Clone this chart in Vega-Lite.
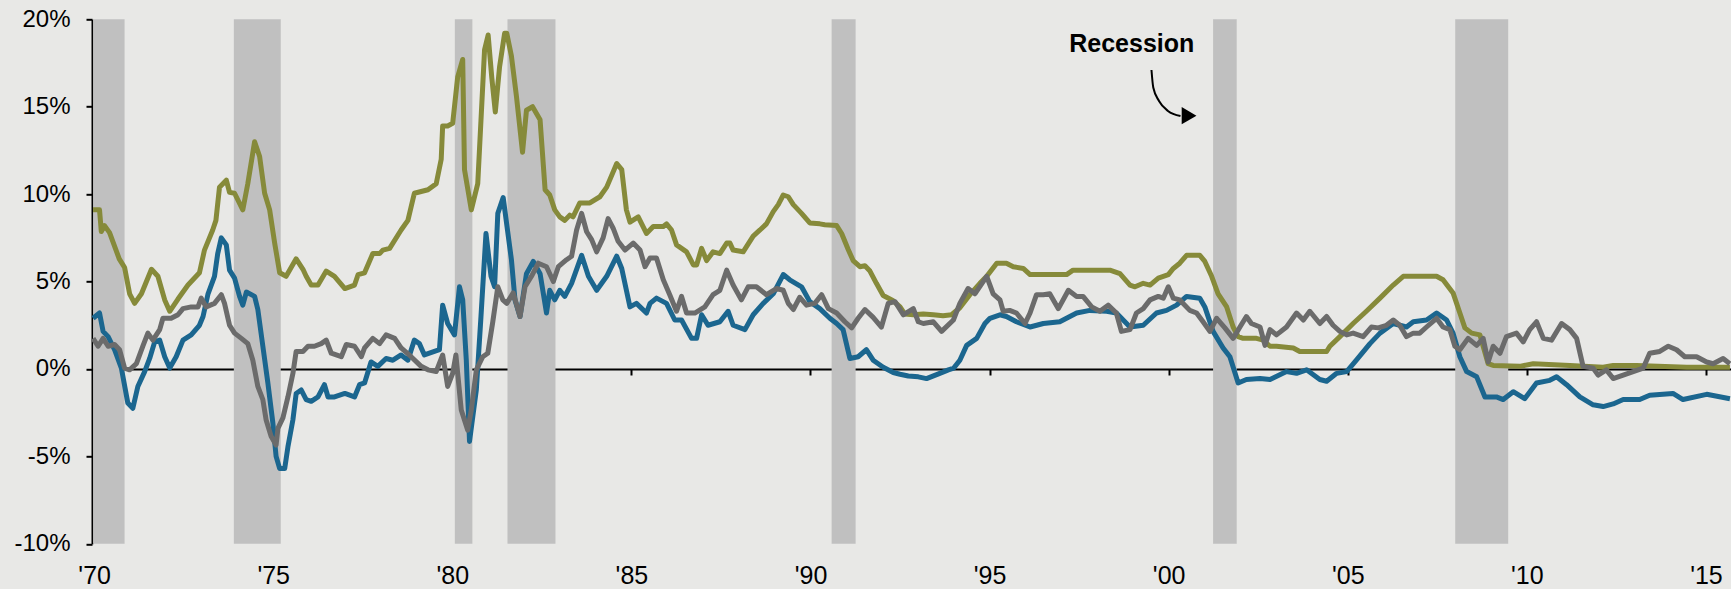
{
  "$schema": "https://vega.github.io/schema/vega-lite/v6.json",
  "width": 1639,
  "height": 524.5,
  "autosize": "none",
  "padding": {"left": 92, "top": 19.3, "right": 0, "bottom": 45.2},
  "background": "#e8e8e6",
  "config": {
    "view": {"stroke": null},
    "axis": {"grid": false, "labelFont": "Liberation Sans", "labelColor": "#000000", "title": null}
  },
  "datasets": {
    "recessions": [
      {"start": 1969.97, "end": 1970.85},
      {"start": 1973.9, "end": 1975.21},
      {"start": 1980.07, "end": 1980.56},
      {"start": 1981.54, "end": 1982.88},
      {"start": 1990.59, "end": 1991.26},
      {"start": 2001.24, "end": 2001.9},
      {"start": 2008.0, "end": 2009.48}
    ],
    "fedFunds": [
      {"t":1969.97,"v":9.1},{"t":1970.15,"v":9.1},{"t":1970.2,"v":7.86},{"t":1970.29,"v":8.2},{"t":1970.43,"v":7.8},{"t":1970.7,"v":6.3},{"t":1970.85,"v":5.8},{"t":1970.99,"v":4.3},{"t":1971.13,"v":3.75},{"t":1971.32,"v":4.3},{"t":1971.6,"v":5.7},{"t":1971.78,"v":5.3},{"t":1971.97,"v":3.95},{"t":1972.11,"v":3.3},{"t":1972.34,"v":4.0},{"t":1972.62,"v":4.8},{"t":1972.94,"v":5.5},{"t":1973.08,"v":6.8},{"t":1973.31,"v":7.95},{"t":1973.4,"v":8.5},{"t":1973.5,"v":10.4},{"t":1973.69,"v":10.8},{"t":1973.78,"v":10.1},{"t":1973.92,"v":10.05},{"t":1974.15,"v":9.1},{"t":1974.29,"v":10.6},{"t":1974.48,"v":13.0},{"t":1974.62,"v":12.15},{"t":1974.76,"v":10.05},{"t":1974.9,"v":9.1},{"t":1975.04,"v":7.2},{"t":1975.18,"v":5.5},{"t":1975.36,"v":5.3},{"t":1975.64,"v":6.3},{"t":1975.83,"v":5.7},{"t":1975.92,"v":5.3},{"t":1976.06,"v":4.8},{"t":1976.25,"v":4.8},{"t":1976.48,"v":5.6},{"t":1976.71,"v":5.3},{"t":1977.0,"v":4.6},{"t":1977.27,"v":4.8},{"t":1977.37,"v":5.4},{"t":1977.55,"v":5.5},{"t":1977.78,"v":6.6},{"t":1977.97,"v":6.6},{"t":1978.06,"v":6.8},{"t":1978.25,"v":6.9},{"t":1978.57,"v":7.95},{"t":1978.76,"v":8.5},{"t":1978.94,"v":10.05},{"t":1979.13,"v":10.15},{"t":1979.32,"v":10.25},{"t":1979.55,"v":10.6},{"t":1979.69,"v":12.0},{"t":1979.73,"v":13.9},{"t":1979.87,"v":13.9},{"t":1980.01,"v":14.05},{"t":1980.15,"v":16.7},{"t":1980.29,"v":17.7},{"t":1980.34,"v":11.4},{"t":1980.53,"v":9.1},{"t":1980.71,"v":10.6},{"t":1980.9,"v":18.25},{"t":1981.0,"v":19.1},{"t":1981.1,"v":16.7},{"t":1981.2,"v":14.7},{"t":1981.32,"v":17.3},{"t":1981.46,"v":19.2},{"t":1981.52,"v":19.2},{"t":1981.65,"v":17.9},{"t":1981.79,"v":15.6},{"t":1981.96,"v":12.4},{"t":1982.07,"v":14.8},{"t":1982.24,"v":15.0},{"t":1982.45,"v":14.25},{"t":1982.59,"v":10.25},{"t":1982.72,"v":9.95},{"t":1982.86,"v":9.1},{"t":1983.0,"v":8.7},{"t":1983.14,"v":8.5},{"t":1983.28,"v":8.8},{"t":1983.37,"v":8.7},{"t":1983.56,"v":9.5},{"t":1983.84,"v":9.5},{"t":1984.12,"v":9.85},{"t":1984.31,"v":10.4},{"t":1984.59,"v":11.75},{"t":1984.73,"v":11.4},{"t":1984.86,"v":9.1},{"t":1984.96,"v":8.4},{"t":1985.19,"v":8.7},{"t":1985.42,"v":7.75},{"t":1985.61,"v":8.15},{"t":1985.89,"v":8.15},{"t":1985.98,"v":8.3},{"t":1986.12,"v":7.95},{"t":1986.26,"v":7.1},{"t":1986.54,"v":6.7},{"t":1986.73,"v":5.95},{"t":1986.82,"v":5.95},{"t":1986.96,"v":6.9},{"t":1987.1,"v":6.2},{"t":1987.28,"v":6.7},{"t":1987.47,"v":6.6},{"t":1987.66,"v":7.2},{"t":1987.75,"v":7.2},{"t":1987.84,"v":6.8},{"t":1988.12,"v":6.7},{"t":1988.4,"v":7.6},{"t":1988.59,"v":7.95},{"t":1988.77,"v":8.3},{"t":1988.96,"v":9.0},{"t":1989.1,"v":9.4},{"t":1989.24,"v":9.95},{"t":1989.38,"v":9.85},{"t":1989.52,"v":9.4},{"t":1989.75,"v":8.9},{"t":1989.98,"v":8.35},{"t":1990.26,"v":8.3},{"t":1990.4,"v":8.25},{"t":1990.73,"v":8.2},{"t":1990.87,"v":7.75},{"t":1991.05,"v":6.85},{"t":1991.19,"v":6.2},{"t":1991.38,"v":5.85},{"t":1991.52,"v":5.9},{"t":1991.66,"v":5.6},{"t":1991.84,"v":4.9},{"t":1992.03,"v":4.2},{"t":1992.31,"v":3.9},{"t":1992.5,"v":3.55},{"t":1992.63,"v":3.15},{"t":1992.87,"v":3.1},{"t":1993.15,"v":3.15},{"t":1993.43,"v":3.1},{"t":1993.7,"v":3.05},{"t":1993.94,"v":3.1},{"t":1994.17,"v":3.5},{"t":1994.45,"v":4.25},{"t":1994.73,"v":4.9},{"t":1994.92,"v":5.3},{"t":1995.05,"v":5.65},{"t":1995.2,"v":6.05},{"t":1995.47,"v":6.05},{"t":1995.66,"v":5.85},{"t":1995.94,"v":5.75},{"t":1996.13,"v":5.4},{"t":1996.5,"v":5.4},{"t":1996.87,"v":5.4},{"t":1997.15,"v":5.4},{"t":1997.33,"v":5.65},{"t":1997.99,"v":5.65},{"t":1998.36,"v":5.65},{"t":1998.64,"v":5.45},{"t":1998.92,"v":4.8},{"t":1999.06,"v":4.7},{"t":1999.29,"v":4.9},{"t":1999.48,"v":4.8},{"t":1999.71,"v":5.2},{"t":1999.99,"v":5.4},{"t":2000.13,"v":5.75},{"t":2000.31,"v":6.05},{"t":2000.5,"v":6.5},{"t":2000.87,"v":6.5},{"t":2001.01,"v":6.15},{"t":2001.2,"v":5.3},{"t":2001.38,"v":4.3},{"t":2001.62,"v":3.55},{"t":2001.8,"v":2.4},{"t":2001.94,"v":1.85},{"t":2002.08,"v":1.75},{"t":2002.45,"v":1.75},{"t":2002.64,"v":1.65},{"t":2002.83,"v":1.3},{"t":2003.01,"v":1.3},{"t":2003.48,"v":1.2},{"t":2003.66,"v":1.0},{"t":2004.41,"v":1.0},{"t":2004.5,"v":1.3},{"t":2004.78,"v":1.85},{"t":2005.15,"v":2.6},{"t":2005.52,"v":3.3},{"t":2005.9,"v":4.05},{"t":2006.27,"v":4.8},{"t":2006.55,"v":5.3},{"t":2007.48,"v":5.3},{"t":2007.66,"v":5.1},{"t":2007.94,"v":4.35},{"t":2008.13,"v":3.2},{"t":2008.27,"v":2.35},{"t":2008.46,"v":2.05},{"t":2008.69,"v":1.95},{"t":2008.78,"v":1.3},{"t":2008.92,"v":0.3},{"t":2009.06,"v":0.2},{"t":2009.8,"v":0.15},{"t":2010.18,"v":0.3},{"t":2011.2,"v":0.2},{"t":2012.13,"v":0.1},{"t":2012.41,"v":0.2},{"t":2013.06,"v":0.2},{"t":2014.46,"v":0.1},{"t":2015.67,"v":0.1}
    ],
    "realFedFunds": [
      {"t":1969.97,"v":2.9},{"t":1970.15,"v":3.2},{"t":1970.25,"v":2.15},{"t":1970.39,"v":1.85},{"t":1970.57,"v":1.1},{"t":1970.76,"v":0.05},{"t":1970.94,"v":-1.95},{"t":1971.08,"v":-2.25},{"t":1971.22,"v":-1.0},{"t":1971.41,"v":-0.15},{"t":1971.55,"v":0.6},{"t":1971.69,"v":1.55},{"t":1971.83,"v":1.65},{"t":1971.97,"v":0.7},{"t":1972.11,"v":0.05},{"t":1972.29,"v":0.7},{"t":1972.48,"v":1.65},{"t":1972.71,"v":1.95},{"t":1972.94,"v":2.5},{"t":1973.04,"v":3.0},{"t":1973.18,"v":4.3},{"t":1973.36,"v":5.3},{"t":1973.45,"v":6.6},{"t":1973.55,"v":7.5},{"t":1973.69,"v":7.1},{"t":1973.78,"v":5.65},{"t":1973.92,"v":5.2},{"t":1974.06,"v":4.15},{"t":1974.15,"v":3.65},{"t":1974.25,"v":4.4},{"t":1974.48,"v":4.15},{"t":1974.57,"v":3.4},{"t":1974.71,"v":1.3},{"t":1974.85,"v":-0.8},{"t":1974.99,"v":-3.1},{"t":1975.08,"v":-5.0},{"t":1975.18,"v":-5.7},{"t":1975.32,"v":-5.7},{"t":1975.41,"v":-4.45},{"t":1975.55,"v":-2.9},{"t":1975.64,"v":-1.4},{"t":1975.78,"v":-1.2},{"t":1975.92,"v":-1.75},{"t":1976.06,"v":-1.85},{"t":1976.25,"v":-1.6},{"t":1976.43,"v":-0.9},{"t":1976.53,"v":-1.6},{"t":1976.71,"v":-1.6},{"t":1977.0,"v":-1.4},{"t":1977.27,"v":-1.6},{"t":1977.41,"v":-0.9},{"t":1977.55,"v":-0.8},{"t":1977.73,"v":0.4},{"t":1977.92,"v":0.15},{"t":1978.15,"v":0.6},{"t":1978.34,"v":0.5},{"t":1978.57,"v":0.8},{"t":1978.76,"v":0.5},{"t":1978.94,"v":1.65},{"t":1979.08,"v":1.45},{"t":1979.22,"v":0.8},{"t":1979.5,"v":1.0},{"t":1979.64,"v":1.1},{"t":1979.73,"v":3.65},{"t":1979.87,"v":2.6},{"t":1980.06,"v":1.95},{"t":1980.2,"v":4.7},{"t":1980.29,"v":3.95},{"t":1980.39,"v":0.5},{"t":1980.48,"v":-4.15},{"t":1980.67,"v":-1.2},{"t":1980.8,"v":3.0},{"t":1980.94,"v":7.75},{"t":1981.08,"v":5.3},{"t":1981.18,"v":4.7},{"t":1981.27,"v":8.9},{"t":1981.42,"v":9.8},{"t":1981.65,"v":6.25},{"t":1981.75,"v":3.95},{"t":1981.89,"v":3.0},{"t":1982.07,"v":5.45},{"t":1982.26,"v":6.15},{"t":1982.45,"v":5.45},{"t":1982.63,"v":3.2},{"t":1982.72,"v":4.5},{"t":1982.86,"v":3.95},{"t":1983.0,"v":4.5},{"t":1983.14,"v":4.15},{"t":1983.33,"v":4.9},{"t":1983.61,"v":6.5},{"t":1983.8,"v":5.3},{"t":1984.03,"v":4.5},{"t":1984.31,"v":5.3},{"t":1984.59,"v":6.45},{"t":1984.73,"v":5.75},{"t":1984.96,"v":3.55},{"t":1985.14,"v":3.75},{"t":1985.42,"v":3.2},{"t":1985.52,"v":3.75},{"t":1985.7,"v":4.05},{"t":1985.98,"v":3.75},{"t":1986.21,"v":2.8},{"t":1986.4,"v":2.8},{"t":1986.68,"v":1.75},{"t":1986.82,"v":1.75},{"t":1986.96,"v":3.1},{"t":1987.14,"v":2.5},{"t":1987.47,"v":2.7},{"t":1987.7,"v":3.3},{"t":1987.84,"v":2.5},{"t":1988.17,"v":2.25},{"t":1988.4,"v":3.1},{"t":1988.68,"v":3.75},{"t":1988.96,"v":4.3},{"t":1989.24,"v":5.4},{"t":1989.42,"v":5.1},{"t":1989.75,"v":4.7},{"t":1989.98,"v":3.85},{"t":1990.26,"v":3.45},{"t":1990.54,"v":2.9},{"t":1990.73,"v":2.6},{"t":1990.91,"v":2.25},{"t":1991.1,"v":0.6},{"t":1991.33,"v":0.7},{"t":1991.56,"v":1.1},{"t":1991.75,"v":0.5},{"t":1992.03,"v":0.1},{"t":1992.31,"v":-0.2},{"t":1992.5,"v":-0.3},{"t":1992.73,"v":-0.4},{"t":1993.01,"v":-0.45},{"t":1993.24,"v":-0.55},{"t":1993.61,"v":-0.25},{"t":1993.85,"v":-0.05},{"t":1994.0,"v":0.05},{"t":1994.17,"v":0.5},{"t":1994.36,"v":1.35},{"t":1994.64,"v":1.75},{"t":1994.87,"v":2.6},{"t":1995.01,"v":2.9},{"t":1995.29,"v":3.1},{"t":1995.47,"v":3.0},{"t":1995.75,"v":2.7},{"t":1996.13,"v":2.4},{"t":1996.5,"v":2.6},{"t":1996.96,"v":2.7},{"t":1997.43,"v":3.2},{"t":1997.8,"v":3.35},{"t":1998.27,"v":3.3},{"t":1998.54,"v":3.2},{"t":1998.92,"v":2.4},{"t":1999.29,"v":2.5},{"t":1999.66,"v":3.2},{"t":1999.94,"v":3.35},{"t":2000.22,"v":3.65},{"t":2000.5,"v":4.15},{"t":2000.87,"v":4.05},{"t":2001.01,"v":3.55},{"t":2001.24,"v":2.15},{"t":2001.52,"v":1.2},{"t":2001.71,"v":0.7},{"t":2001.94,"v":-0.8},{"t":2002.17,"v":-0.6},{"t":2002.55,"v":-0.55},{"t":2002.83,"v":-0.6},{"t":2003.29,"v":-0.15},{"t":2003.57,"v":-0.25},{"t":2003.85,"v":-0.05},{"t":2004.22,"v":-0.6},{"t":2004.41,"v":-0.7},{"t":2004.69,"v":-0.25},{"t":2004.97,"v":-0.15},{"t":2005.24,"v":0.5},{"t":2005.62,"v":1.45},{"t":2005.9,"v":2.05},{"t":2006.27,"v":2.6},{"t":2006.64,"v":2.4},{"t":2006.83,"v":2.7},{"t":2007.2,"v":2.8},{"t":2007.48,"v":3.2},{"t":2007.76,"v":2.8},{"t":2007.94,"v":2.05},{"t":2008.13,"v":0.7},{"t":2008.32,"v":-0.15},{"t":2008.6,"v":-0.45},{"t":2008.83,"v":-1.6},{"t":2009.15,"v":-1.6},{"t":2009.34,"v":-1.75},{"t":2009.62,"v":-1.3},{"t":2009.94,"v":-1.7},{"t":2010.27,"v":-0.8},{"t":2010.64,"v":-0.65},{"t":2010.83,"v":-0.45},{"t":2011.11,"v":-0.9},{"t":2011.48,"v":-1.6},{"t":2011.85,"v":-2.05},{"t":2012.13,"v":-2.15},{"t":2012.41,"v":-2.0},{"t":2012.69,"v":-1.75},{"t":2013.15,"v":-1.75},{"t":2013.43,"v":-1.5},{"t":2014.08,"v":-1.4},{"t":2014.36,"v":-1.75},{"t":2015.02,"v":-1.45},{"t":2015.67,"v":-1.7}
    ],
    "thirdSeries": [
      {"t":1969.97,"v":1.75},{"t":1970.11,"v":1.3},{"t":1970.25,"v":1.75},{"t":1970.39,"v":1.3},{"t":1970.57,"v":1.4},{"t":1970.71,"v":1.1},{"t":1970.85,"v":0.05},{"t":1970.99,"v":-0.05},{"t":1971.18,"v":0.3},{"t":1971.36,"v":1.3},{"t":1971.5,"v":2.05},{"t":1971.64,"v":1.65},{"t":1971.83,"v":2.25},{"t":1971.92,"v":2.9},{"t":1972.15,"v":2.9},{"t":1972.34,"v":3.1},{"t":1972.48,"v":3.45},{"t":1972.71,"v":3.55},{"t":1972.9,"v":3.55},{"t":1972.99,"v":4.05},{"t":1973.13,"v":3.55},{"t":1973.36,"v":3.75},{"t":1973.55,"v":4.25},{"t":1973.64,"v":3.75},{"t":1973.78,"v":2.5},{"t":1973.92,"v":2.05},{"t":1974.11,"v":1.75},{"t":1974.29,"v":1.45},{"t":1974.43,"v":0.5},{"t":1974.57,"v":-1.0},{"t":1974.71,"v":-1.75},{"t":1974.8,"v":-2.9},{"t":1974.94,"v":-3.85},{"t":1975.08,"v":-4.35},{"t":1975.13,"v":-3.4},{"t":1975.27,"v":-2.8},{"t":1975.41,"v":-1.6},{"t":1975.55,"v":-0.25},{"t":1975.64,"v":1.0},{"t":1975.83,"v":1.0},{"t":1975.97,"v":1.3},{"t":1976.15,"v":1.3},{"t":1976.34,"v":1.45},{"t":1976.48,"v":1.65},{"t":1976.62,"v":0.9},{"t":1976.9,"v":0.7},{"t":1977.04,"v":1.4},{"t":1977.27,"v":1.3},{"t":1977.46,"v":0.7},{"t":1977.55,"v":1.2},{"t":1977.78,"v":1.75},{"t":1977.97,"v":1.45},{"t":1978.15,"v":1.95},{"t":1978.39,"v":1.75},{"t":1978.57,"v":1.2},{"t":1978.85,"v":0.7},{"t":1979.13,"v":0.15},{"t":1979.32,"v":-0.05},{"t":1979.55,"v":-0.15},{"t":1979.73,"v":0.8},{"t":1979.87,"v":-1.0},{"t":1980.01,"v":-0.25},{"t":1980.1,"v":0.8},{"t":1980.25,"v":-2.35},{"t":1980.43,"v":-3.5},{"t":1980.53,"v":-2.35},{"t":1980.67,"v":-0.05},{"t":1980.85,"v":0.7},{"t":1980.99,"v":0.9},{"t":1981.13,"v":2.7},{"t":1981.27,"v":4.7},{"t":1981.41,"v":3.95},{"t":1981.52,"v":3.75},{"t":1981.7,"v":4.35},{"t":1981.89,"v":3.0},{"t":1982.03,"v":4.7},{"t":1982.21,"v":5.3},{"t":1982.4,"v":6.05},{"t":1982.63,"v":5.85},{"t":1982.82,"v":5.0},{"t":1982.96,"v":5.85},{"t":1983.19,"v":6.25},{"t":1983.33,"v":6.45},{"t":1983.47,"v":7.95},{"t":1983.61,"v":8.9},{"t":1983.75,"v":7.85},{"t":1983.89,"v":7.4},{"t":1984.03,"v":6.7},{"t":1984.21,"v":7.5},{"t":1984.35,"v":8.6},{"t":1984.49,"v":8.05},{"t":1984.63,"v":7.3},{"t":1984.82,"v":6.8},{"t":1985.05,"v":7.2},{"t":1985.24,"v":6.8},{"t":1985.38,"v":5.85},{"t":1985.52,"v":6.35},{"t":1985.7,"v":6.35},{"t":1985.89,"v":5.1},{"t":1986.07,"v":4.25},{"t":1986.26,"v":3.3},{"t":1986.4,"v":4.15},{"t":1986.54,"v":3.2},{"t":1986.77,"v":3.2},{"t":1987.05,"v":3.55},{"t":1987.28,"v":4.25},{"t":1987.47,"v":4.5},{"t":1987.66,"v":5.65},{"t":1987.84,"v":4.8},{"t":1988.07,"v":3.95},{"t":1988.26,"v":4.7},{"t":1988.49,"v":4.7},{"t":1988.77,"v":4.25},{"t":1989.05,"v":4.6},{"t":1989.24,"v":4.5},{"t":1989.38,"v":3.75},{"t":1989.52,"v":3.4},{"t":1989.7,"v":4.1},{"t":1989.89,"v":3.65},{"t":1990.12,"v":3.75},{"t":1990.31,"v":4.25},{"t":1990.5,"v":3.45},{"t":1990.73,"v":3.2},{"t":1990.96,"v":2.7},{"t":1991.15,"v":2.35},{"t":1991.33,"v":2.9},{"t":1991.52,"v":3.4},{"t":1991.75,"v":2.95},{"t":1991.98,"v":2.4},{"t":1992.17,"v":3.75},{"t":1992.36,"v":3.85},{"t":1992.59,"v":3.1},{"t":1992.87,"v":3.45},{"t":1993.01,"v":2.7},{"t":1993.15,"v":2.6},{"t":1993.43,"v":2.7},{"t":1993.66,"v":2.15},{"t":1993.99,"v":2.8},{"t":1994.17,"v":3.75},{"t":1994.4,"v":4.6},{"t":1994.59,"v":4.3},{"t":1994.92,"v":5.3},{"t":1995.1,"v":4.3},{"t":1995.29,"v":3.95},{"t":1995.38,"v":3.3},{"t":1995.56,"v":3.35},{"t":1995.75,"v":3.2},{"t":1995.99,"v":2.6},{"t":1996.13,"v":3.2},{"t":1996.31,"v":4.25},{"t":1996.5,"v":4.25},{"t":1996.68,"v":4.3},{"t":1996.92,"v":3.45},{"t":1997.2,"v":4.5},{"t":1997.43,"v":4.15},{"t":1997.61,"v":4.15},{"t":1997.85,"v":3.55},{"t":1998.08,"v":3.3},{"t":1998.31,"v":3.65},{"t":1998.54,"v":3.2},{"t":1998.68,"v":2.15},{"t":1998.92,"v":2.25},{"t":1999.1,"v":3.2},{"t":1999.29,"v":3.45},{"t":1999.48,"v":3.95},{"t":1999.71,"v":4.15},{"t":1999.85,"v":4.05},{"t":1999.99,"v":4.7},{"t":2000.13,"v":4.05},{"t":2000.31,"v":3.95},{"t":2000.59,"v":3.35},{"t":2000.78,"v":3.2},{"t":2000.96,"v":2.7},{"t":2001.15,"v":2.15},{"t":2001.34,"v":2.9},{"t":2001.57,"v":2.35},{"t":2001.8,"v":1.75},{"t":2001.99,"v":2.4},{"t":2002.17,"v":3.0},{"t":2002.31,"v":2.6},{"t":2002.55,"v":2.4},{"t":2002.69,"v":1.35},{"t":2002.83,"v":2.25},{"t":2003.01,"v":1.95},{"t":2003.29,"v":2.4},{"t":2003.57,"v":3.2},{"t":2003.76,"v":2.8},{"t":2003.94,"v":3.3},{"t":2004.22,"v":2.6},{"t":2004.41,"v":3.0},{"t":2004.59,"v":2.5},{"t":2004.78,"v":2.15},{"t":2004.97,"v":1.95},{"t":2005.15,"v":2.05},{"t":2005.43,"v":1.85},{"t":2005.66,"v":2.4},{"t":2005.85,"v":2.35},{"t":2006.08,"v":2.5},{"t":2006.27,"v":2.8},{"t":2006.45,"v":2.5},{"t":2006.64,"v":1.85},{"t":2006.83,"v":2.05},{"t":2007.01,"v":2.05},{"t":2007.2,"v":2.4},{"t":2007.48,"v":2.9},{"t":2007.66,"v":2.4},{"t":2007.85,"v":2.25},{"t":2007.99,"v":1.3},{"t":2008.13,"v":1.1},{"t":2008.36,"v":1.75},{"t":2008.6,"v":1.35},{"t":2008.78,"v":1.75},{"t":2008.92,"v":0.4},{"t":2009.06,"v":1.3},{"t":2009.25,"v":0.9},{"t":2009.43,"v":1.85},{"t":2009.71,"v":2.05},{"t":2009.9,"v":1.55},{"t":2010.08,"v":2.25},{"t":2010.27,"v":2.7},{"t":2010.46,"v":1.75},{"t":2010.69,"v":1.65},{"t":2010.97,"v":2.6},{"t":2011.2,"v":2.25},{"t":2011.39,"v":1.75},{"t":2011.57,"v":0.15},{"t":2011.85,"v":0.05},{"t":2011.99,"v":-0.35},{"t":2012.22,"v":-0.05},{"t":2012.41,"v":-0.55},{"t":2012.69,"v":-0.35},{"t":2012.97,"v":-0.15},{"t":2013.25,"v":0.05},{"t":2013.43,"v":0.9},{"t":2013.71,"v":1.0},{"t":2013.95,"v":1.3},{"t":2014.18,"v":1.1},{"t":2014.41,"v":0.7},{"t":2014.74,"v":0.7},{"t":2015.02,"v":0.4},{"t":2015.2,"v":0.3},{"t":2015.48,"v":0.6},{"t":2015.67,"v":0.3}
    ],
    "arrow": [
      {"t":1999.52,"v":17.1},{"t":1999.57,"v":16.1},{"t":1999.73,"v":15.33},{"t":1999.98,"v":14.76},{"t":2000.33,"v":14.47}
    ],
    "label": [
      {"t":1998.97,"v":18.12,"text":"Recession","ht":2000.57,"hv":14.49}
    ]
  },
  "resolve": {"axis": {"x": "independent", "y": "independent"}},
  "layer": [
    {
      "data": {"name": "recessions"},
      "mark": {"type": "rect", "color": "#c0c0c0"},
      "encoding": {
        "x": {"field": "start", "type": "quantitative",
              "scale": {"domain": [1969.94, 2015.7], "nice": false, "zero": false},
              "axis": {"values": [1970,1975,1980,1985,1990,1995,2000,2005,2010,2015],
                       "labelExpr": "\"'\" + substring(toString(datum.value), 2, 4)",
                       "ticks": false, "domain": false, "labelFontSize": 25, "labelPadding": 20,
                       "labelFlush": false, "labelOverlap": false}},
        "x2": {"field": "end"},
        "y": {"datum": 20, "type": "quantitative", "scale": {"domain": [-10, 20], "nice": false},
              "axis": {"values": [-10,-5,0,5,10,15,20], "labelExpr": "datum.value + '%'",
                       "domainColor": "#000000", "domainWidth": 2, "tickColor": "#000000",
                       "tickWidth": 2, "tickSize": 6, "labelFontSize": 24, "labelPadding": 16}},
        "y2": {"datum": -10}
      }
    },
    {
      "data": {"name": "fedFunds"},
      "mark": {"type": "line", "color": "#868a3a", "strokeWidth": 5, "strokeJoin": "round"},
      "encoding": {
        "x": {"field": "t", "type": "quantitative",
              "axis": {"orient": "bottom", "offset": -174.8, "values": [1975,1980,1985,1990,1995,2000,2005,2010,2015],
                       "labels": false, "ticks": true, "tickSize": 6, "tickWidth": 2, "tickColor": "#000000",
                       "domain": true, "domainColor": "#000000", "domainWidth": 2}},
        "y": {"field": "v", "type": "quantitative", "axis": null}
      }
    },
    {
      "data": {"name": "realFedFunds"},
      "mark": {"type": "line", "color": "#1b668f", "strokeWidth": 5, "strokeJoin": "round"},
      "encoding": {
        "x": {"field": "t", "type": "quantitative", "axis": null},
        "y": {"field": "v", "type": "quantitative", "axis": null}
      }
    },
    {
      "data": {"name": "thirdSeries"},
      "mark": {"type": "line", "color": "#6b6b6b", "strokeWidth": 5, "strokeJoin": "round"},
      "encoding": {
        "x": {"field": "t", "type": "quantitative", "axis": null},
        "y": {"field": "v", "type": "quantitative", "axis": null}
      }
    },
    {
      "data": {"name": "arrow"},
      "mark": {"type": "line", "color": "#000000", "strokeWidth": 2, "interpolate": "monotone"},
      "encoding": {
        "x": {"field": "t", "type": "quantitative", "axis": null},
        "y": {"field": "v", "type": "quantitative", "axis": null}
      }
    },
    {
      "data": {"name": "label"},
      "mark": {"type": "point", "shape": "triangle-right", "filled": true, "color": "#000000", "size": 290, "opacity": 1},
      "encoding": {
        "x": {"field": "ht", "type": "quantitative", "axis": null},
        "y": {"field": "hv", "type": "quantitative", "axis": null}
      }
    },
    {
      "data": {"name": "label"},
      "mark": {"type": "text", "font": "Liberation Sans", "fontWeight": "bold", "fontSize": 25, "align": "center", "baseline": "alphabetic", "color": "#000000"},
      "encoding": {
        "x": {"field": "t", "type": "quantitative", "axis": null},
        "y": {"field": "v", "type": "quantitative", "axis": null},
        "text": {"field": "text"}
      }
    }
  ]
}
